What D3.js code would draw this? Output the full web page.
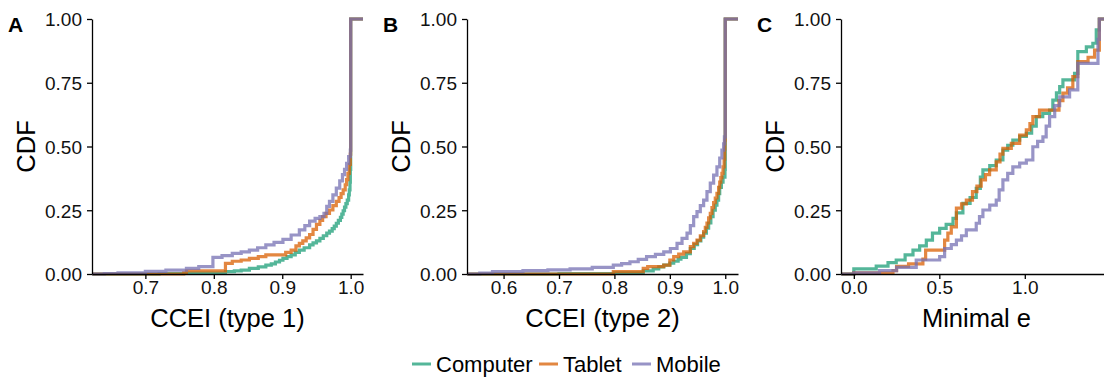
<!DOCTYPE html>
<html>
<head>
<meta charset="utf-8">
<script src="https://cdn.jsdelivr.net/npm/d3@7"></script>
<style>
body{margin:0;background:#fff;}
svg{display:block;font-family:"Liberation Sans",Arial,Helvetica,sans-serif;}
</style>
</head>
<body>
<svg id="fig" width="1104" height="377"></svg>
<script>
var devices = ["Computer", "Tablet", "Mobile"];
var colors = ["#1b9e77", "#d95f02", "#7570b3"];
var yTicks = [0, 0.25, 0.5, 0.75, 1];
var ticksA = [0.7, 0.8, 0.9, 1.0];
var ticksB = [0.6, 0.7, 0.8, 0.9, 1.0];
var ticksC = [0.0, 0.5, 1.0];

var type1Computer = [[0.64,0],[0.72,0.002],[0.76,0.004],[0.817,0.009],[0.83,0.012],[0.84,0.015],[0.852,0.022],[0.865,0.028],[0.876,0.035],[0.884,0.04],[0.89,0.047],[0.896,0.054],[0.901,0.061],[0.907,0.068],[0.913,0.075],[0.919,0.085],[0.925,0.094],[0.932,0.103],[0.94,0.114],[0.945,0.122],[0.95,0.13],[0.955,0.14],[0.96,0.15],[0.965,0.16],[0.969,0.168],[0.973,0.178],[0.976,0.188],[0.979,0.199],[0.982,0.21],[0.985,0.222],[0.987,0.235],[0.989,0.248],[0.991,0.262],[0.993,0.276],[0.995,0.29],[0.997,0.31],[0.998,0.33],[0.999,0.36],[0.9995,0.41],[1.0,1.0]];
var type1Tablet = [[0.64,0],[0.756,0.005],[0.76,0.012],[0.817,0.042],[0.827,0.05],[0.84,0.055],[0.852,0.061],[0.865,0.068],[0.876,0.075],[0.905,0.085],[0.913,0.094],[0.92,0.11],[0.925,0.12],[0.93,0.13],[0.935,0.142],[0.94,0.155],[0.945,0.175],[0.95,0.195],[0.955,0.21],[0.959,0.225],[0.964,0.238],[0.969,0.251],[0.974,0.268],[0.979,0.285],[0.983,0.3],[0.986,0.315],[0.989,0.33],[0.992,0.35],[0.994,0.37],[0.996,0.395],[0.998,0.43],[0.9995,0.47],[1.0,1.0]];
var type1Mobile = [[0.64,0.002],[0.66,0.005],[0.70,0.01],[0.73,0.015],[0.76,0.022],[0.778,0.029],[0.7987,0.065],[0.812,0.072],[0.827,0.081],[0.84,0.087],[0.852,0.094],[0.864,0.103],[0.876,0.114],[0.888,0.124],[0.901,0.136],[0.913,0.153],[0.925,0.173],[0.933,0.19],[0.94,0.207],[0.948,0.218],[0.955,0.225],[0.961,0.238],[0.965,0.265],[0.969,0.285],[0.974,0.31],[0.979,0.337],[0.984,0.365],[0.988,0.39],[0.991,0.41],[0.994,0.434],[0.997,0.46],[0.9995,0.486],[1.0,1.0]];

var type2Computer = [[0.555,0],[0.70,0.002],[0.80,0.005],[0.852,0.012],[0.87,0.02],[0.88,0.028],[0.889,0.035],[0.9,0.043],[0.907,0.05],[0.915,0.058],[0.92,0.065],[0.93,0.08],[0.937,0.10],[0.944,0.115],[0.95,0.13],[0.956,0.145],[0.961,0.16],[0.966,0.18],[0.97,0.2],[0.974,0.225],[0.978,0.25],[0.982,0.27],[0.985,0.29],[0.988,0.315],[0.99,0.34],[0.993,0.36],[0.996,0.38],[0.9995,0.41],[1.0,1.0]];
var type2Tablet = [[0.555,0],[0.798,0.009],[0.852,0.022],[0.86,0.029],[0.889,0.035],[0.9,0.055],[0.907,0.068],[0.916,0.078],[0.925,0.087],[0.937,0.107],[0.943,0.12],[0.949,0.133],[0.955,0.15],[0.961,0.166],[0.964,0.183],[0.967,0.2],[0.97,0.22],[0.973,0.238],[0.976,0.26],[0.979,0.28],[0.982,0.298],[0.985,0.316],[0.988,0.34],[0.99,0.36],[0.992,0.378],[0.994,0.395],[0.996,0.42],[0.998,0.45],[0.999,0.49],[0.9995,0.525],[1.0,1.0]];
var type2Mobile = [[0.557,0.004],[0.58,0.009],[0.635,0.013],[0.68,0.016],[0.72,0.02],[0.76,0.026],[0.798,0.035],[0.813,0.041],[0.828,0.048],[0.843,0.057],[0.858,0.068],[0.874,0.077],[0.889,0.087],[0.901,0.1],[0.913,0.12],[0.922,0.14],[0.931,0.16],[0.937,0.19],[0.943,0.225],[0.949,0.245],[0.955,0.268],[0.961,0.29],[0.967,0.323],[0.973,0.356],[0.979,0.388],[0.985,0.42],[0.99,0.455],[0.994,0.486],[0.997,0.51],[0.9985,0.538],[1.0,1.0]];

var minECom = [[0,0.02],[0.131,0.031],[0.2,0.045],[0.248,0.055],[0.3,0.075],[0.346,0.094],[0.385,0.11],[0.424,0.133],[0.46,0.16],[0.502,0.179],[0.54,0.195],[0.58,0.218],[0.6,0.24],[0.638,0.277],[0.68,0.3],[0.716,0.336],[0.74,0.38],[0.755,0.408],[0.795,0.425],[0.833,0.447],[0.872,0.486],[0.9,0.505],[0.93,0.525],[0.97,0.54],[1.009,0.552],[1.04,0.58],[1.067,0.617],[1.105,0.63],[1.145,0.643],[1.164,0.682],[1.185,0.71],[1.204,0.735],[1.223,0.761],[1.291,0.787],[1.31,0.872],[1.36,0.891],[1.398,0.905],[1.418,0.957],[1.436,1.0]];
var minETab = [[0,0.005],[0.229,0.013],[0.25,0.03],[0.32,0.04],[0.404,0.058],[0.42,0.094],[0.531,0.133],[0.55,0.16],[0.57,0.185],[0.6,0.258],[0.63,0.275],[0.658,0.29],[0.694,0.323],[0.72,0.345],[0.745,0.369],[0.77,0.39],[0.794,0.408],[0.833,0.44],[0.855,0.47],[0.872,0.493],[0.921,0.512],[0.97,0.545],[1.009,0.565],[1.03,0.59],[1.047,0.617],[1.086,0.643],[1.2,0.68],[1.223,0.709],[1.25,0.73],[1.281,0.774],[1.31,0.833],[1.37,0.85],[1.408,0.878],[1.436,1.0]];
var minEMob = [[0,0.005],[0.15,0.013],[0.25,0.026],[0.365,0.055],[0.502,0.068],[0.531,0.1],[0.57,0.115],[0.6,0.133],[0.63,0.15],[0.658,0.173],[0.716,0.199],[0.735,0.225],[0.755,0.251],[0.795,0.27],[0.833,0.29],[0.85,0.33],[0.872,0.369],[0.9,0.395],[0.93,0.42],[0.97,0.435],[1.009,0.447],[1.047,0.499],[1.075,0.52],[1.106,0.538],[1.125,0.58],[1.145,0.617],[1.175,0.66],[1.204,0.695],[1.262,0.722],[1.31,0.826],[1.428,0.92],[1.436,1.0]];

var panels = [
  {letter:"A", left:92,  dom:[0.622,1.018], ticks:ticksA, fmt:".1f", title:"CCEI (type 1)", series:[type1Computer,type1Tablet,type1Mobile]},
  {letter:"B", left:467, dom:[0.534,1.023], ticks:ticksB, fmt:".1f", title:"CCEI (type 2)", series:[type2Computer,type2Tablet,type2Mobile]},
  {letter:"C", left:841, dom:[-0.075,1.51], ticks:ticksC, fmt:".1f", title:"Minimal e", series:[minECom,minETab,minEMob]}
];

function drawFigure(){
  var svg = d3.select("#fig");
  var pw = 271, yTop = 19, yBot = 274;
  var y = d3.scaleLinear().domain([0,1]).range([yBot, yTop]);

  panels.forEach(function(p){
    var x = d3.scaleLinear().domain(p.dom).range([p.left, p.left + pw]);

    var line = d3.line()
      .x(function(d){ return x(d[0]); })
      .y(function(d){ return y(d[1]); })
      .curve(d3.curveStepAfter);

    p.series.forEach(function(s, i){
      // ecdf padded out to the panel edges like stat_ecdf
      var pts = [[p.dom[0], 0]].concat(s).concat([[p.dom[1], 1]]);
      svg.append("path")
        .attr("d", line(pts))
        .attr("fill", "none")
        .attr("stroke", colors[i])
        .attr("stroke-width", 3.2)
        .attr("opacity", 0.75);
    });

    var gx = svg.append("g")
      .attr("transform", "translate(0," + yBot + ")")
      .call(d3.axisBottom(x).tickValues(p.ticks).tickFormat(d3.format(p.fmt)).tickSize(5).tickSizeOuter(0).tickPadding(2));
    var gy = svg.append("g")
      .attr("transform", "translate(" + p.left + ",0)")
      .call(d3.axisLeft(y).tickValues(yTicks).tickFormat(d3.format(".2f")).tickSize(5).tickSizeOuter(0).tickPadding(5));

    [gx, gy].forEach(function(g){
      g.attr("font-size", 19).attr("font-family", null);
      g.selectAll("path, line").attr("stroke", "#000").attr("stroke-width", 1.3);
      g.selectAll("text").attr("fill", "#111");
    });
    gy.selectAll("text").attr("dy", "0.36em");

    svg.append("text")
      .attr("x", p.left + pw / 2).attr("y", 327)
      .attr("text-anchor", "middle")
      .attr("font-size", 25.5)
      .text(p.title);

    svg.append("text")
      .attr("transform", "translate(" + (p.left - 57) + "," + ((yTop + yBot) / 2) + ") rotate(-90)")
      .attr("text-anchor", "middle")
      .attr("font-size", 25.5)
      .text("CDF");

    svg.append("text")
      .attr("x", p.left - 84).attr("y", 31.5)
      .attr("font-size", 21)
      .attr("font-weight", "bold")
      .text(p.letter);
  });

  // legend
  var legX = [412, 539, 632];
  devices.forEach(function(d, i){
    svg.append("line")
      .attr("x1", legX[i]).attr("x2", legX[i] + 19)
      .attr("y1", 364).attr("y2", 364)
      .attr("stroke", colors[i]).attr("stroke-width", 3).attr("opacity", 0.75);
    svg.append("text")
      .attr("x", legX[i] + 24).attr("y", 372)
      .attr("font-size", 22)
      .text(d);
  });
}

drawFigure();
</script>
</body>
</html>
